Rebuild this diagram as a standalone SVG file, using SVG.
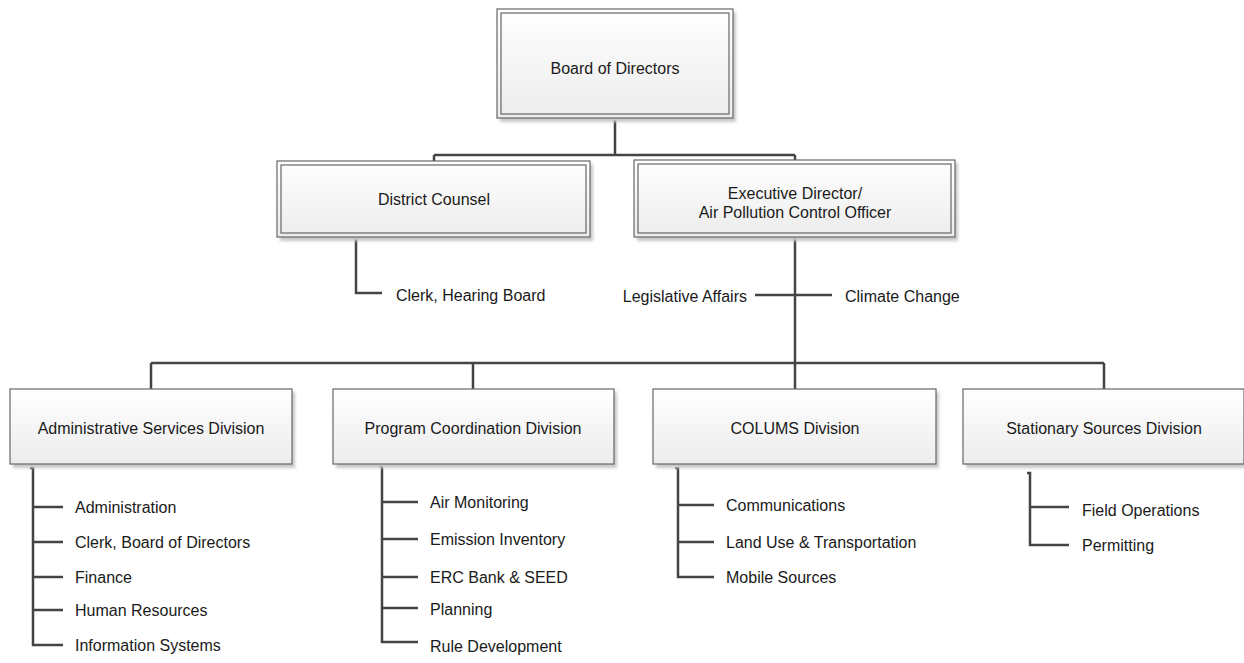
<svg xmlns="http://www.w3.org/2000/svg" width="1244" height="663" viewBox="0 0 1244 663">
<defs>
<linearGradient id="g" x1="0" y1="0" x2="0" y2="1">
<stop offset="0" stop-color="#ffffff"/>
<stop offset="1" stop-color="#ececec"/>
</linearGradient>
<filter id="sh" x="-10%" y="-10%" width="120%" height="130%">
<feGaussianBlur stdDeviation="1.5"/>
</filter>
<style>
.shadow{fill:#c8c8c8;filter:url(#sh)}
.box{fill:url(#g);stroke:#666;stroke-width:1.2}
.inner{fill:none;stroke:#666;stroke-width:1.2}
.t{font-family:"Liberation Sans",Arial,sans-serif;font-size:16px;fill:#1a1a1a}
.c{text-anchor:middle}
.ln{fill:none;stroke:#444;stroke-width:2.5}
</style>
</defs>
<rect width="1244" height="663" fill="#ffffff"/>

<g id="connectors">
<path class="ln" d="M615 118 V155 M434 155 H795 M434 155 V161 M795 155 V160"/>
<path class="ln" d="M356 237 V293 H382"/>
<path class="ln" d="M795 237 V363 M755 295 H832"/>
<path class="ln" d="M151 363 H1104 M151 363 V389 M473 363 V389 M795 363 V389 M1104 363 V389"/>
<path class="ln" d="M30 468 H33 V645 H63 M33 507 H63 M33 542 H63 M33 577 H63 M33 610 H63"/>
<path class="ln" d="M379 466 H382 V642 H418 M382 502 H418 M382 539 H418 M382 577 H418 M382 608 H418"/>
<path class="ln" d="M675 468 H678 V577 H714 M678 505 H714 M678 542 H714"/>
<path class="ln" d="M1027 473 H1030 V545 H1069 M1030 507 H1069"/>
</g>

<g id="board">
<rect class="shadow" x="500" y="12" width="236" height="110"/>
<rect class="box" x="497" y="9" width="236" height="109"/>
<rect class="inner" x="501" y="13" width="228" height="101"/>
<text class="t c" x="615" y="74">Board of Directors</text>
</g>

<g id="district-counsel">
<rect class="shadow" x="280" y="164" width="313" height="77"/>
<rect class="box" x="277" y="161" width="313" height="76"/>
<rect class="inner" x="281" y="165" width="305" height="68"/>
<text class="t c" x="434" y="205">District Counsel</text>
</g>

<g id="executive-director">
<rect class="shadow" x="637" y="163" width="321" height="78"/>
<rect class="box" x="634" y="160" width="321" height="77"/>
<rect class="inner" x="638" y="164" width="313" height="69"/>
<text class="t c" x="795" y="199">Executive Director/</text>
<text class="t c" x="795" y="218">Air Pollution Control Officer</text>
</g>

<g id="clerk-hearing-board">
<text class="t" x="396" y="301">Clerk, Hearing Board</text>
</g>

<g id="legislative-affairs">
<text class="t" x="747" y="302" text-anchor="end">Legislative Affairs</text>
</g>

<g id="climate-change">
<text class="t" x="845" y="302">Climate Change</text>
</g>

<g id="admin-division">
<rect class="shadow" x="13" y="392" width="282" height="76"/>
<rect class="box" x="10" y="389" width="282" height="75"/>
<text class="t c" x="151" y="434">Administrative Services Division</text>
<text class="t" x="75" y="513">Administration</text>
<text class="t" x="75" y="548">Clerk, Board of Directors</text>
<text class="t" x="75" y="583">Finance</text>
<text class="t" x="75" y="616">Human Resources</text>
<text class="t" x="75" y="651">Information Systems</text>
</g>

<g id="program-division">
<rect class="shadow" x="336" y="392" width="281" height="76"/>
<rect class="box" x="333" y="389" width="281" height="75"/>
<text class="t c" x="473" y="434">Program Coordination Division</text>
<text class="t" x="430" y="508">Air Monitoring</text>
<text class="t" x="430" y="545">Emission Inventory</text>
<text class="t" x="430" y="583">ERC Bank &amp; SEED</text>
<text class="t" x="430" y="615">Planning</text>
<text class="t" x="430" y="652">Rule Development</text>
</g>

<g id="colums-division">
<rect class="shadow" x="656" y="392" width="283" height="76"/>
<rect class="box" x="653" y="389" width="283" height="75"/>
<text class="t c" x="795" y="434">COLUMS Division</text>
<text class="t" x="726" y="511">Communications</text>
<text class="t" x="726" y="548">Land Use &amp; Transportation</text>
<text class="t" x="726" y="583">Mobile Sources</text>
</g>

<g id="stationary-division">
<rect class="shadow" x="966" y="392" width="281" height="76"/>
<rect class="box" x="963" y="389" width="281" height="75"/>
<text class="t c" x="1104" y="434">Stationary Sources Division</text>
<text class="t" x="1082" y="516">Field Operations</text>
<text class="t" x="1082" y="551">Permitting</text>
</g>
</svg>
